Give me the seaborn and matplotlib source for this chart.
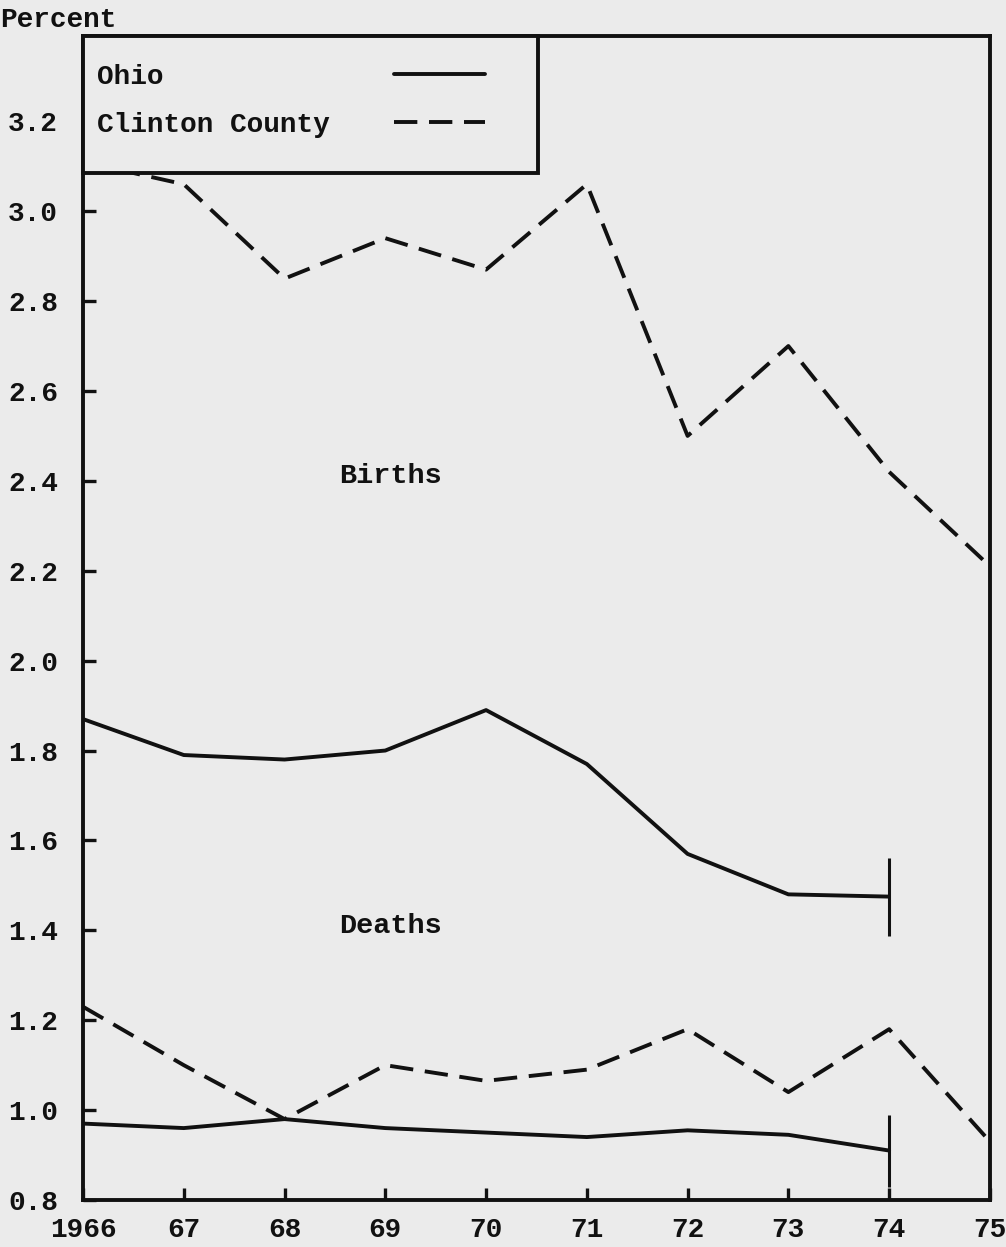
import matplotlib
matplotlib.use("Agg")
import numpy as np
import pandas as pd
import matplotlib.pyplot as plt
import seaborn as sns
from matplotlib.patches import Rectangle

# data (percent)
years = [1966, 1967, 1968, 1969, 1970, 1971, 1972, 1973, 1974, 1975]
year_labels = ["1966", "67", "68", "69", "70", "71", "72", "73", "74", "75"]
y_ticks = [0.8, 1.0, 1.2, 1.4, 1.6, 1.8, 2.0, 2.2, 2.4, 2.6, 2.8, 3.0, 3.2]

# Ohio series stop at 1974
ohio_births = [1.87, 1.79, 1.78, 1.80, 1.89, 1.77, 1.57, 1.48, 1.475]
clinton_births = [3.11, 3.06, 2.85, 2.94, 2.87, 3.06, 2.50, 2.70, 2.42, 2.21]
ohio_deaths = [0.97, 0.96, 0.98, 0.96, 0.95, 0.94, 0.955, 0.945, 0.91]
clinton_deaths = [1.23, 1.10, 0.98, 1.10, 1.065, 1.09, 1.18, 1.04, 1.18, 0.93]

bg = "#ebebeb"
ink = "#111111"
dash = (0, (6.0, 3.0))

sns.set_theme(style="ticks")
plt.rcParams["font.family"] = ["Liberation Mono", "DejaVu Sans Mono"]
plt.rcParams["font.weight"] = "bold"
plt.rcParams["text.color"] = ink
plt.rcParams["axes.edgecolor"] = ink

fig = plt.figure(figsize=(10.06, 12.47), dpi=100, facecolor=bg)
ax = fig.add_axes([0.0825, 0.0377, 0.9015, 0.9335], facecolor=bg)

lw = 2.8
sns.lineplot(x=years[:len(ohio_births)], y=ohio_births, ax=ax, color=ink, lw=lw,
             label="Ohio" + " " * 10, marker="|", markevery=[len(ohio_births) - 1],
             markersize=56, markeredgewidth=2.2, markeredgecolor=ink)
sns.lineplot(x=years, y=clinton_births, ax=ax, color=ink, lw=lw,
             linestyle=dash, label="Clinton County")
sns.lineplot(x=years[:len(ohio_deaths)], y=ohio_deaths, ax=ax, color=ink, lw=lw,
             marker="|", markevery=[len(ohio_deaths) - 1],
             markersize=52, markeredgewidth=2.2, markeredgecolor=ink)
sns.lineplot(x=years, y=clinton_deaths, ax=ax, color=ink, lw=lw, linestyle=dash)

ax.text(1969.05, 2.41, "Births", ha="center", va="center", fontsize=20.5)
ax.text(1969.05, 1.41, "Deaths", ha="center", va="center", fontsize=20.5)

ax.set_xlim(1966, 1975)
ax.set_ylim(0.8, 3.39)
ax.set_xticks(years)
ax.set_xticklabels(year_labels)
ax.set_yticks(y_ticks)
ax.set_yticklabels([f"{v:.1f}" for v in y_ticks])
ax.tick_params(axis="both", direction="in", length=9, width=2.4, labelsize=20,
               colors=ink)
ax.tick_params(axis="x", pad=12)
ax.tick_params(axis="y", pad=18)
for s in ax.spines.values():
    s.set_linewidth(2.8)
    s.set_color(ink)
ax.set_xlabel("")
ax.set_ylabel("")

# legend box in the top-left corner
box = Rectangle((0, 0.882), 0.5017, 0.118, transform=ax.transAxes,
                facecolor=bg, edgecolor=ink, lw=2.8, zorder=4, clip_on=False)
ax.add_patch(box)
leg = ax.legend(loc="upper left", bbox_to_anchor=(0.0155, 0.976), frameon=False,
                markerfirst=False, borderpad=0, borderaxespad=0, fontsize=20,
                handlelength=3.3, handletextpad=2.3, labelspacing=0.8)
leg.set_zorder(5)
for h in leg.legend_handles:
    h.set_marker("")

fig.text(0.0, 1 - 20 / 1247, "Percent", ha="left", va="center", fontsize=20)

fig.savefig("out.png", dpi=100, facecolor=bg)
